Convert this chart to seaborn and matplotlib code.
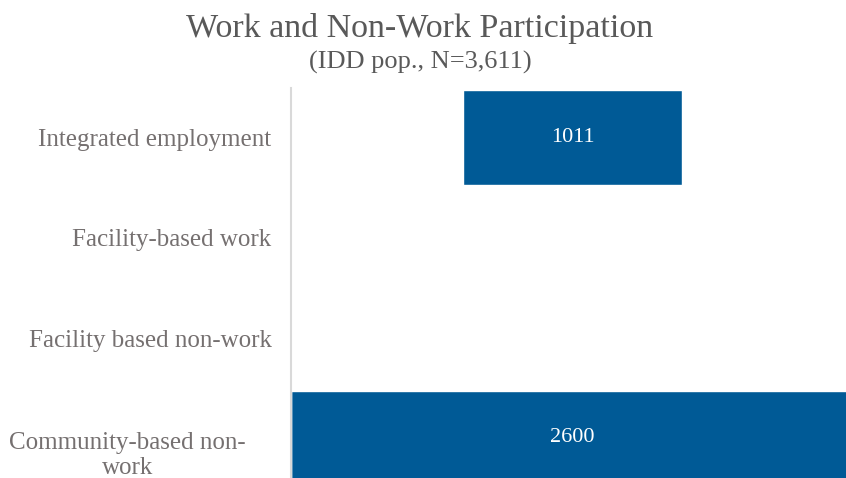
import matplotlib
matplotlib.use("Agg")
import matplotlib.pyplot as plt
import matplotlib.transforms as mtransforms
import seaborn as sns
import pandas as pd

# ─── Data ─────────────────────────────────────────────────────────────────────
categories = ["Integrated employment", "Facility-based work",
              "Facility based non-work", "Community-based non-\nwork"]
values  = [1011, 0, 0, 2600]
offsets = [795, 0, 0, 0]      # invisible base of the floating bars

BAR_COLOR   = "#005A96"
TITLE_COLOR = "#595959"
LABEL_COLOR = "#757070"

sns.set_theme(style="white")
plt.rcParams["font.family"] = ["Liberation Serif", "DejaVu Serif"]

df = pd.DataFrame({
    "category": categories,
    "total": [o + v for o, v in zip(offsets, values)],
    "offset": offsets,
})

fig = plt.figure(figsize=(8.46, 4.78), dpi=100)
ax = fig.add_axes([291 / 846, 0.0, 1 - 291 / 846, (478 - 88) / 478])

sns.barplot(data=df, x="total", y="category", color=BAR_COLOR,
            saturation=1, width=0.95, ax=ax)
sns.barplot(data=df, x="offset", y="category", color="white",
            saturation=1, width=0.97, ax=ax)

ax.set_xlim(0, 2562)
ax.set_ylim(3.4, -0.5)

for i, (o, v) in enumerate(zip(offsets, values)):
    if v > 0:
        ax.text(o + v / 2, i, str(v), ha="center", va="center",
                color="white", fontsize=16)

ax.set_xlabel("")
ax.set_ylabel("")
ax.set_xticks([])
ax.tick_params(axis="y", length=0, pad=14, labelsize=18, labelcolor=LABEL_COLOR)

# wrapped last label: centred in its text box, first line level with the bar
last = ax.get_yticklabels()[-1]
last.set_multialignment("center")
last.set_horizontalalignment("center")
last.set_transform(last.get_transform() +
                   mtransforms.ScaledTranslation(-144 / 100, -13 / 100, fig.dpi_scale_trans))

for s in ["top", "right", "bottom"]:
    ax.spines[s].set_visible(False)
ax.spines["left"].set_color("#D9D9D9")
ax.spines["left"].set_linewidth(1.5)

fig.text(420 / 846, 1 - 28 / 478, "Work and Non-Work Participation",
         ha="center", va="center", fontsize=24.5, color=TITLE_COLOR)
fig.text(420 / 846, 1 - 62 / 478, "(IDD pop., N=3,611)",
         ha="center", va="center", fontsize=19, color=TITLE_COLOR)

fig.savefig("out.png", dpi=100)
